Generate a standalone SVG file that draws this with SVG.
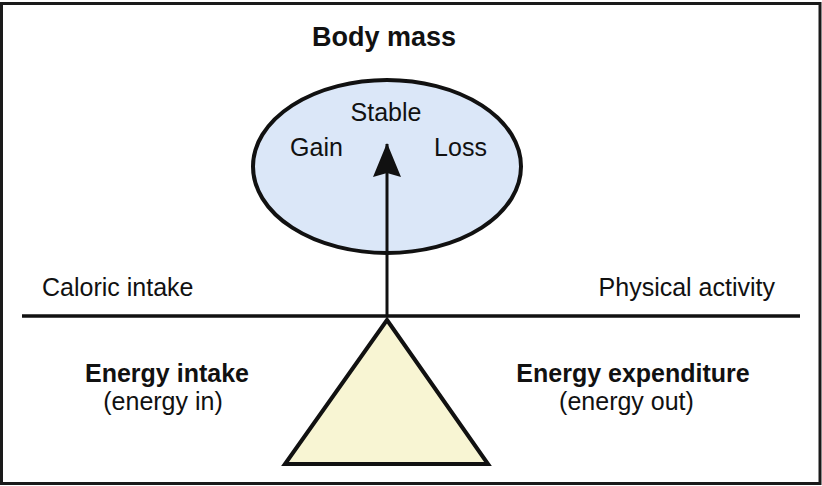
<svg xmlns="http://www.w3.org/2000/svg" width="822" height="486" viewBox="0 0 822 486">
<style>
text{font-family:"Liberation Sans",Arial,sans-serif;fill:#111;}
.r{font-size:25px;}
.bb{font-size:25px;font-weight:bold;}
.ln{stroke:#111;stroke-width:3.5;fill:none;}
</style>
<defs>
<marker id="ah" viewBox="0 0 34 28" refX="33" refY="14" markerWidth="34" markerHeight="28" markerUnits="userSpaceOnUse" orient="auto">
<path d="M34 14 L0 0 L4 14 L0 28 Z" fill="#111"/>
</marker>
</defs>
<rect x="1.5" y="3.5" width="818.5" height="480" fill="#fff" stroke="#1a1a1a" stroke-width="3"/>
<text class="bb" x="384" y="46" text-anchor="middle" style="font-size:27px">Body mass</text>
<g id="bodymass">
<ellipse cx="387" cy="166.5" rx="134" ry="86.5" fill="#dbe7f8" stroke="#111" stroke-width="4"/>
<text class="r" x="386" y="121" text-anchor="middle">Stable</text>
<text class="r" x="316.5" y="156" text-anchor="middle">Gain</text>
<text class="r" x="460.5" y="156" text-anchor="middle">Loss</text>
</g>
<g id="beam">
<line class="ln" x1="22" y1="316" x2="800" y2="316"/>
<text class="r" x="42" y="296">Caloric intake</text>
<text class="r" x="775" y="296" text-anchor="end">Physical activity</text>
</g>
<g id="fulcrum">
<polygon points="387,320 488,464 285,464" fill="#f8f5d3" stroke="#111" stroke-width="4" stroke-linejoin="miter"/>
</g>
<g id="intake">
<text class="bb" x="167" y="382" text-anchor="middle">Energy intake</text>
<text class="r" x="163" y="410" text-anchor="middle">(energy in)</text>
</g>
<g id="expenditure">
<text class="bb" x="633" y="382" text-anchor="middle">Energy expenditure</text>
<text class="r" x="626.5" y="410" text-anchor="middle">(energy out)</text>
</g>
<g id="connectors">
<line x1="387" y1="316" x2="387" y2="144" stroke="#111" stroke-width="3" marker-end="url(#ah)"/>
</g>
</svg>
